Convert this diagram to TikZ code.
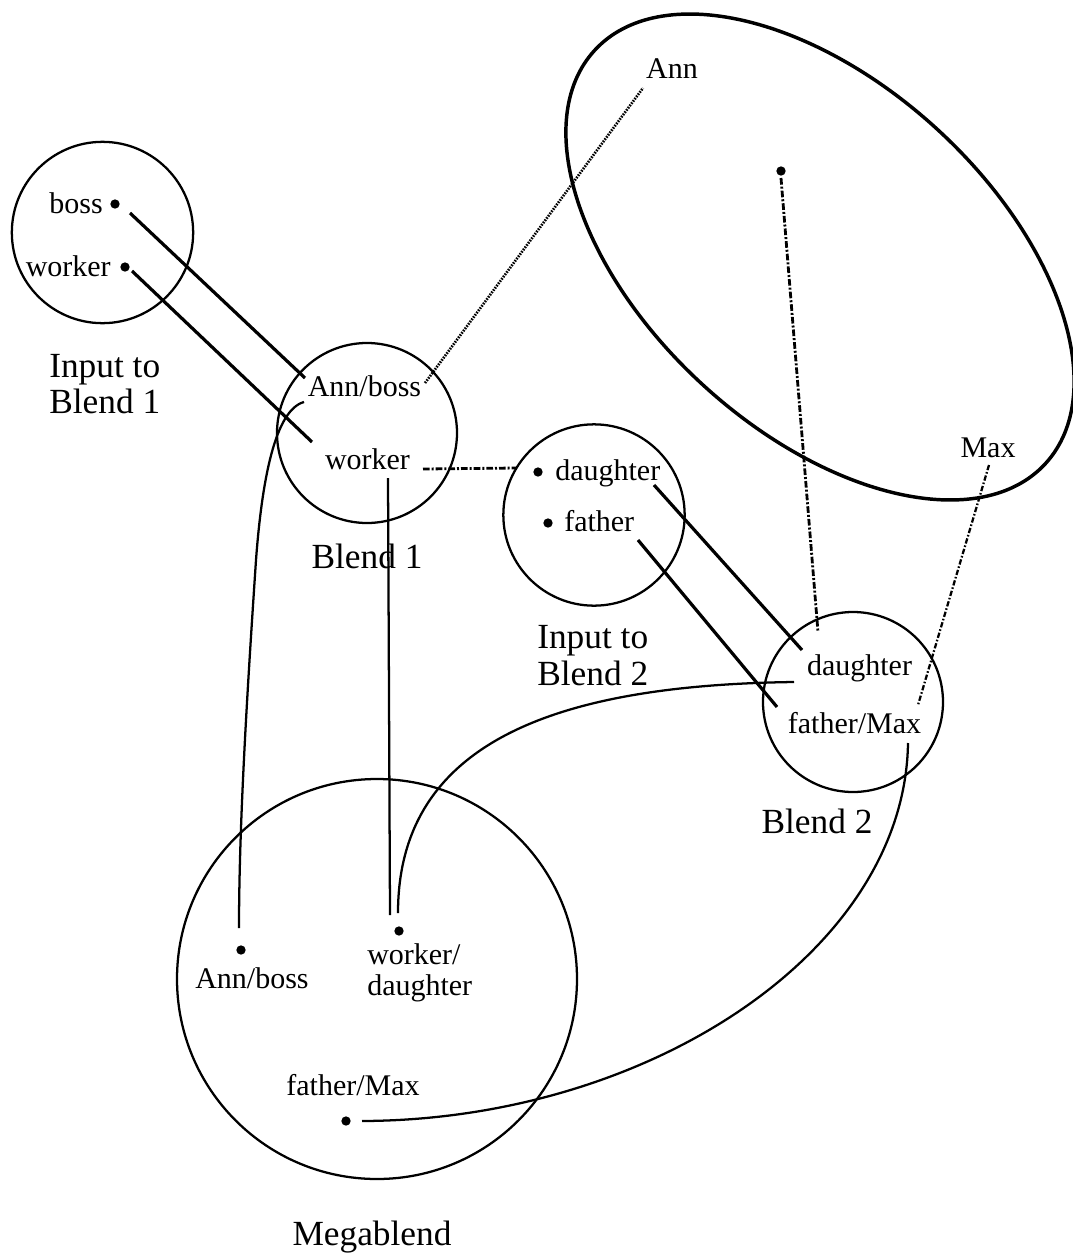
\documentclass[tikz,border=0pt]{standalone}
\usepackage{fontspec}
\setmainfont{Liberation Serif}
\begin{document}
\begin{tikzpicture}[x=0.75pt,y=-0.75pt,
 ring/.style={draw,circle,line width=1.7pt,inner sep=0pt},
 link/.style={line width=2.4pt},
 curv/.style={line width=1.7pt},
 dotn/.style={circle,fill,inner sep=0pt,minimum size=7pt},
 small/.style={font=\fontsize{22.5}{26}\selectfont,inner sep=0pt},
 big/.style={font=\fontsize{26.5}{30}\selectfont,inner sep=0pt},
 dotline/.style={line width=2pt,dash pattern=on 1.2pt off 0.9pt},
 dashdot/.style={line width=2.1pt,dash pattern=on 5pt off 1.5pt on 1.5pt off 1.5pt},
 thindashdot/.style={line width=1.7pt,dash pattern=on 4pt off 1.5pt on 1.2pt off 1.5pt},
]
\useasboundingbox (0,0) rectangle (1073,1257);

% circles
\node[ring,minimum size=136pt] (in1) at (102.5,232.5) {};
\node[ring,minimum size=135pt] (bl1) at (367,433) {};
\node[ring,minimum size=136pt] (in2) at (594,515) {};
\node[ring,minimum size=135pt] (bl2) at (853,702) {};
\node[ring,minimum size=300pt] (mega) at (377,979) {};
\draw[line width=2.6pt,rotate around={-42.5:(820,257)}] (820,257) ellipse [x radius=305.8, y radius=173.4];
\coordinate (ellc) at (820,257);

% Input to Blend 1
\node[small,anchor=base east] (bossT) at (103,213) {boss};
\node[dotn] (bossD) at (115,204) {};
\node[small,anchor=base east] (workT) at (111,276) {worker};
\node[dotn] (workD) at (125,267) {};
\node[big,anchor=base west] (lin1a) at (49,377) {Input to};
\node[big,anchor=base west] (lin1b) at (49,413) {Blend 1};

% Blend 1
\node[small,anchor=base] (b1ann) at (364.5,396) {Ann/boss};
\node[small,anchor=base] (b1work) at (367.5,469) {worker};
\node[big,anchor=base] (lb1) at (367,568) {Blend 1};

% Input to Blend 2
\node[dotn] (dauD) at (538,472) {};
\node[small,anchor=base west] (dauT) at (555,480) {daughter};
\node[dotn] (fatD) at (548,523) {};
\node[small,anchor=base west] (fatT) at (564,531) {father};
\node[big,anchor=base west] (lin2a) at (537,648) {Input to};
\node[big,anchor=base west] (lin2b) at (537,685) {Blend 2};

% Blend 2
\node[small,anchor=base] (b2dau) at (859.5,675) {daughter};
\node[small,anchor=base] (b2fat) at (854.5,733) {father/Max};
\node[big,anchor=base] (lb2) at (817,833) {Blend 2};

% ellipse contents
\node[small,anchor=base] (annT) at (672,78) {Ann};
\node[dotn] (ellD) at (781,171) {};
\node[small,anchor=base] (maxT) at (988,457) {Max};

% Megablend
\node[dotn] (mAnnD) at (241,950) {};
\node[small,anchor=base] (mAnnT) at (252,988) {Ann/boss};
\node[dotn] (mWdD) at (399,931) {};
\node[small,anchor=base west] (mWdT1) at (367,964) {worker/};
\node[small,anchor=base west] (mWdT2) at (367,995) {daughter};
\node[small,anchor=base] (mFmT) at (353,1095) {father/Max};
\node[dotn] (mFmD) at (346,1121) {};
\node[big,anchor=base] (lmega) at (372,1245) {Megablend};

% connector end points
\coordinate (p1) at (130,213); \coordinate (q1) at (305,378);
\coordinate (p2) at (132,271); \coordinate (q2) at (312,442);
\coordinate (p3) at (654,485); \coordinate (q3) at (802,650);
\coordinate (p4) at (638,540); \coordinate (q4) at (777,707);
\coordinate (p5) at (425,383); \coordinate (q5) at (643,88);
\coordinate (p6) at (423,469); \coordinate (q6) at (517,468);
\coordinate (p7) at (781,178); \coordinate (q7) at (818,632);
\coordinate (p8) at (989,465); \coordinate (q8) at (918,705);
\coordinate (p9) at (304,402); \coordinate (m9) at (256,560); \coordinate (q9) at (239,928);
\coordinate (p10) at (388,478); \coordinate (q10) at (390,915);
\coordinate (p11) at (794,682); \coordinate (q11) at (398,913);
\coordinate (p12) at (908,743); \coordinate (q12) at (362,1121);

% straight connectors
\draw[link] (p1) -- (q1);
\draw[link] (p2) -- (q2);
\draw[link] (p3) -- (q3);
\draw[link] (p4) -- (q4);
\draw[dotline] (p5) -- (q5);
\draw[dashdot] (p6) -- (q6);
\draw[dashdot] (p7) -- (q7);
\draw[thindashdot] (p8) -- (q8);

% curved connectors
\draw[curv] (p9) .. controls (275,410) and (262,480) .. (m9) .. controls (248,680) and (239,820) .. (q9);
\draw[curv] (p10) -- (q10);
\draw[curv] (p11) .. controls (560,685) and (398,740) .. (q11);
\draw[curv] (p12) .. controls (905,950) and (650,1120) .. (q12);
\end{tikzpicture}
\end{document}
